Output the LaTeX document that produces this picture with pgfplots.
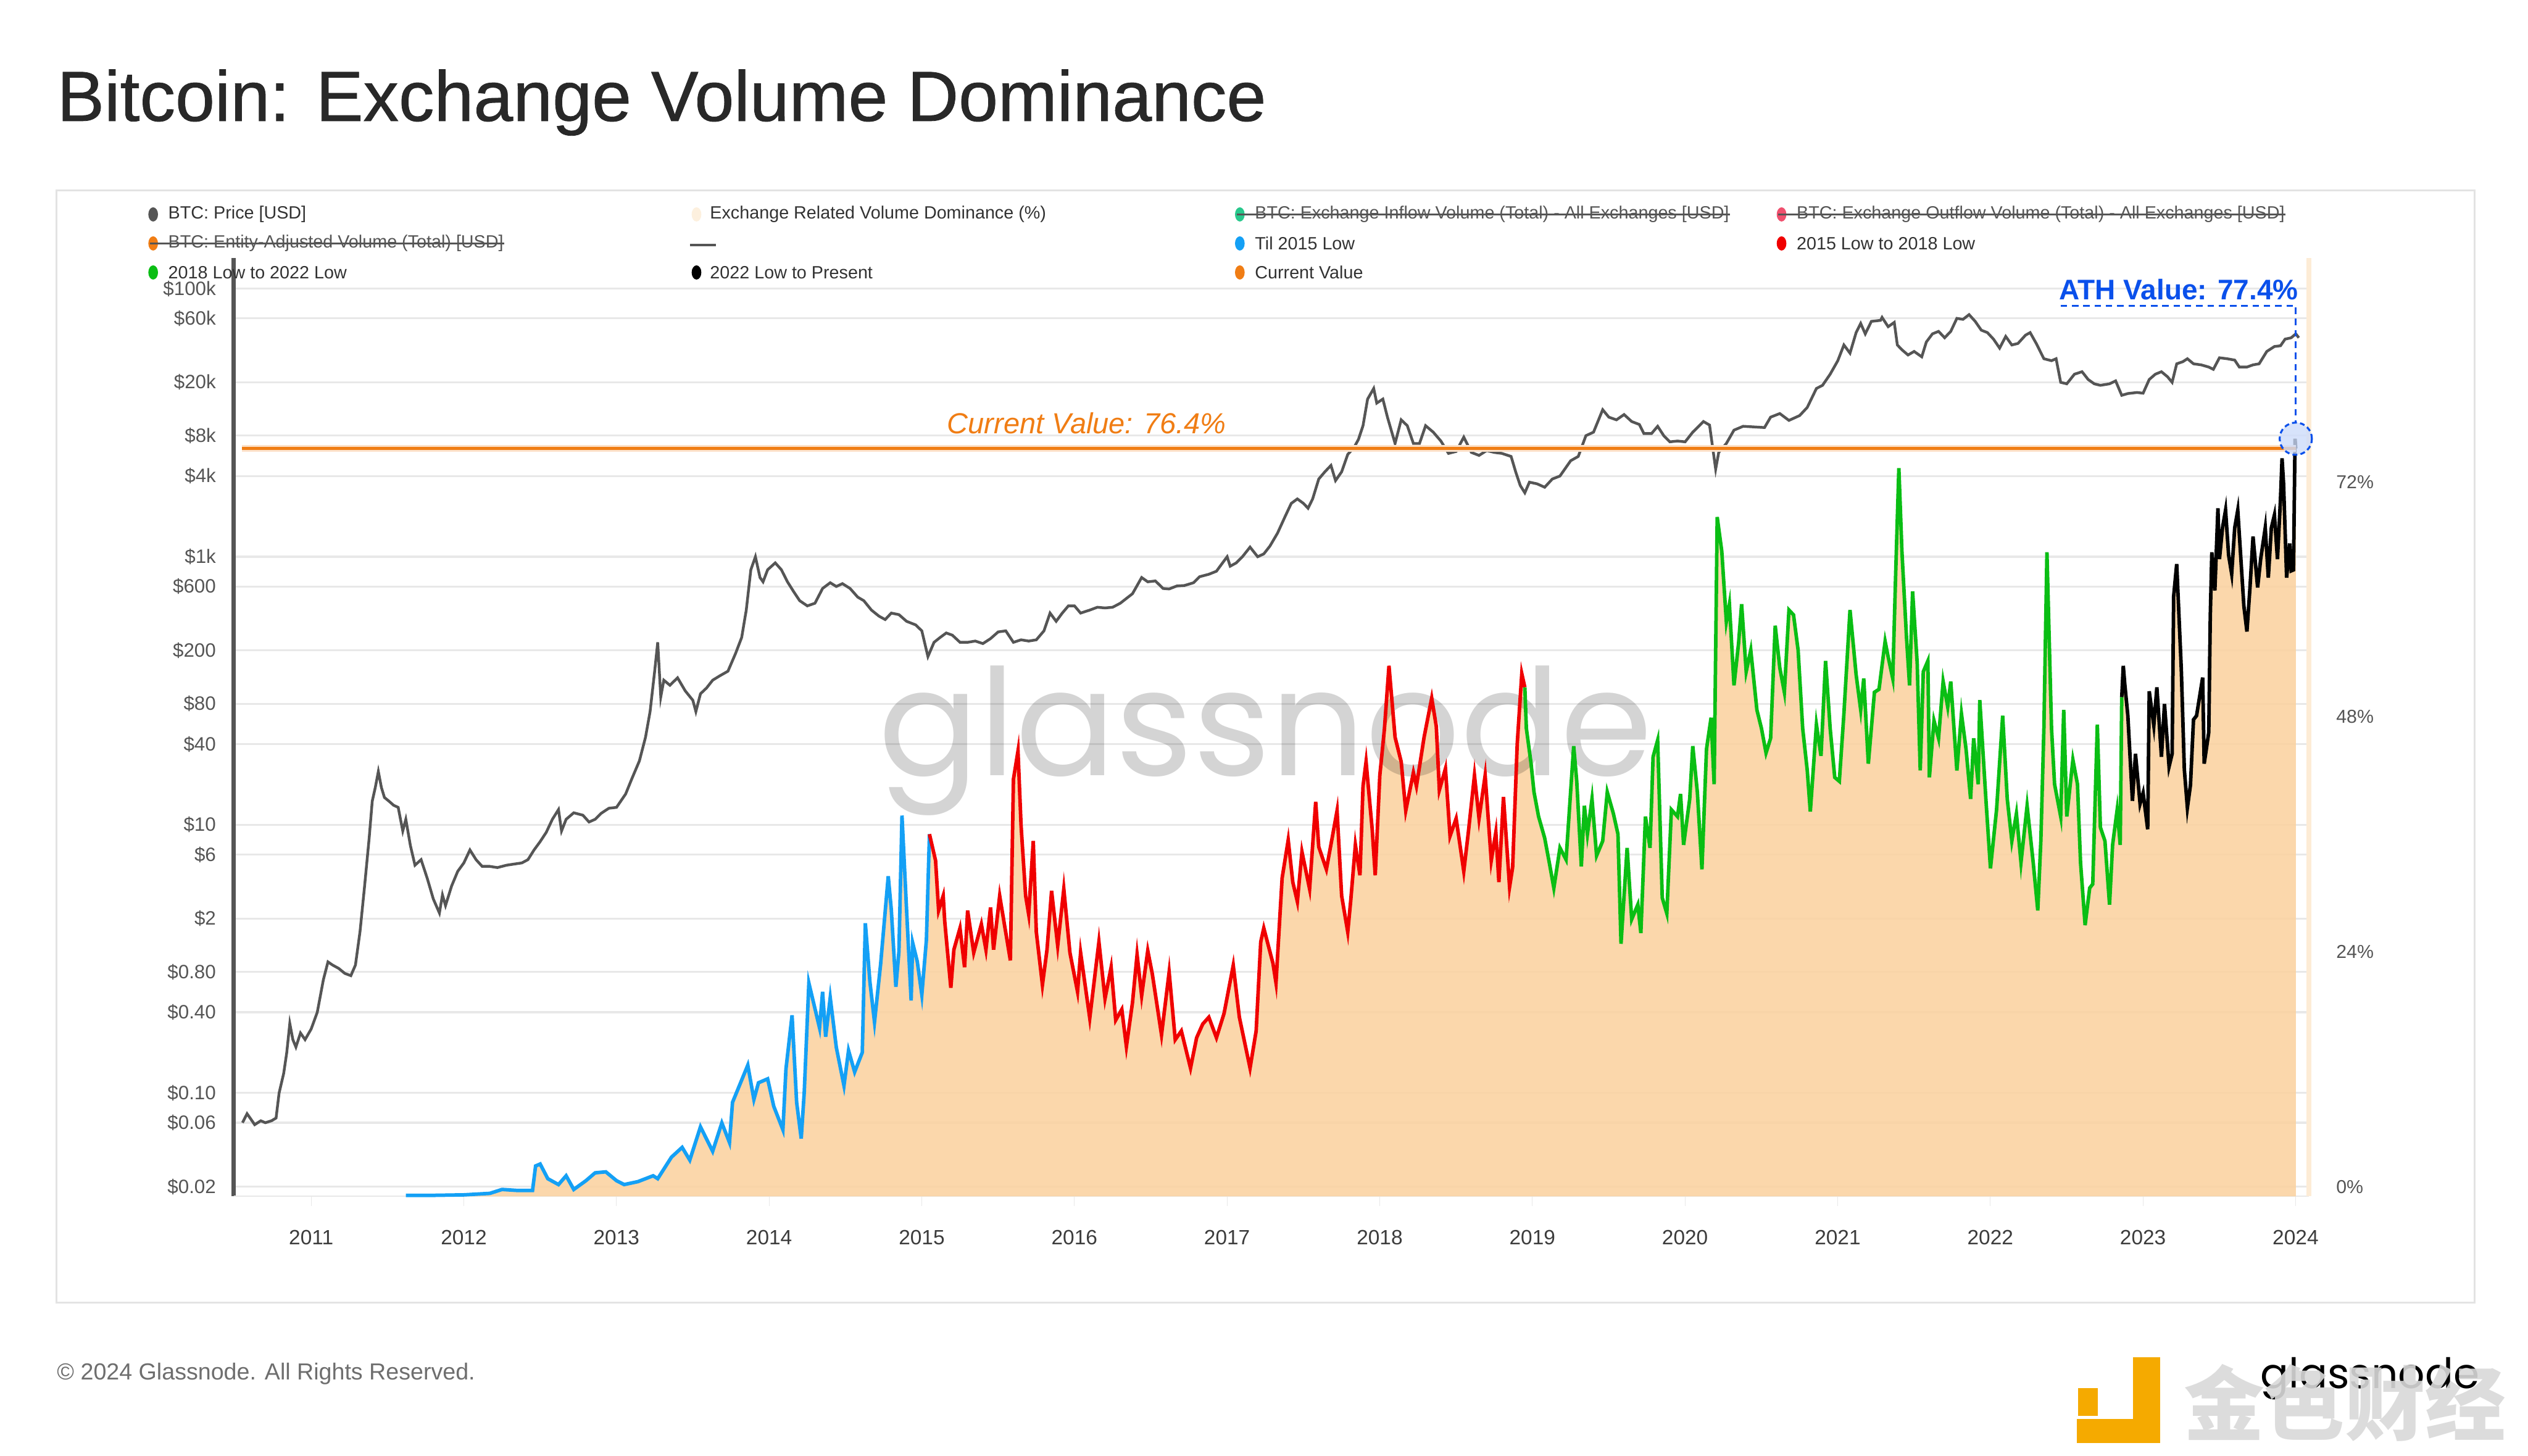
\documentclass[border=0pt]{standalone}
\usepackage{pgfplots}
\pgfplotsset{compat=1.18}
\usepackage{pgfplotstable}
\usepackage{fontspec}
\setmainfont{Liberation Sans}
\newfontfamily\titlefont{Liberation Sans}[FakeBold=0.7]
\newfontfamily\wmfont{Poppins}
\newfontfamily\cjk{Noto Sans CJK SC}

\definecolor{pricegray}{RGB}{85,85,85}
\definecolor{fillor}{RGB}{251,209,157}
\definecolor{linblue}{RGB}{20,160,245}
\definecolor{linred}{RGB}{240,0,0}
\definecolor{lingreen}{RGB}{10,190,20}
\definecolor{curor}{RGB}{240,125,20}
\definecolor{athblue}{RGB}{10,80,235}
\definecolor{gridc}{RGB}{232,232,232}
\definecolor{txtgray}{RGB}{85,85,85}
\definecolor{rightor}{RGB}{253,236,214}
\definecolor{logoor}{RGB}{245,170,0}
\definecolor{titlec}{RGB}{40,40,40}
\definecolor{xlab}{RGB}{60,60,60}
\definecolor{legtxt}{RGB}{50,50,50}
\definecolor{cream}{RGB}{253,240,222}
\definecolor{teal}{RGB}{40,200,140}
\definecolor{pinkred}{RGB}{240,80,110}
\definecolor{footc}{RGB}{110,110,110}
\newcommand\fs[1]{\fontsize{#1}{#1}\selectfont}

% BTC price (USD)
\pgfplotstableread{
x y
2010.55 0.06
2010.58 0.07
2010.60 0.065
2010.63 0.058
2010.67 0.062
2010.70 0.06
2010.74 0.062
2010.77 0.065
2010.79 0.1
2010.82 0.14
2010.84 0.20
2010.86 0.33
2010.88 0.25
2010.90 0.22
2010.93 0.28
2010.96 0.25
2011.00 0.30
2011.04 0.40
2011.08 0.70
2011.11 0.95
2011.14 0.90
2011.18 0.85
2011.22 0.78
2011.26 0.75
2011.29 0.90
2011.32 1.6
2011.35 3.5
2011.38 8
2011.40 15
2011.42 19
2011.44 25
2011.46 19
2011.48 16
2011.51 15
2011.54 14
2011.57 13.5
2011.60 9
2011.62 11
2011.65 7
2011.68 5
2011.72 5.5
2011.76 4
2011.80 2.8
2011.84 2.2
2011.86 3.0
2011.88 2.5
2011.92 3.5
2011.96 4.5
2012.00 5.2
2012.04 6.5
2012.08 5.5
2012.12 4.9
2012.17 4.9
2012.22 4.8
2012.28 5.0
2012.33 5.1
2012.38 5.2
2012.42 5.5
2012.46 6.5
2012.50 7.5
2012.54 8.8
2012.58 11
2012.62 13
2012.64 9
2012.67 11
2012.72 12.3
2012.78 11.8
2012.82 10.5
2012.86 11
2012.90 12.2
2012.95 13.3
2013.00 13.5
2013.06 17
2013.10 22
2013.15 30
2013.19 45
2013.22 70
2013.25 140
2013.27 230
2013.29 90
2013.31 120
2013.35 110
2013.40 125
2013.45 100
2013.50 85
2013.52 70
2013.55 95
2013.59 105
2013.63 120
2013.68 130
2013.73 140
2013.78 190
2013.82 250
2013.85 400
2013.88 800
2013.91 1000
2013.94 700
2013.96 650
2013.99 800
2014.04 900
2014.08 800
2014.12 650
2014.16 550
2014.20 470
2014.25 430
2014.30 450
2014.35 580
2014.40 640
2014.44 600
2014.48 630
2014.53 580
2014.58 500
2014.62 470
2014.67 400
2014.72 360
2014.76 340
2014.80 380
2014.85 370
2014.90 330
2014.96 310
2015.00 280
2015.04 180
2015.08 230
2015.12 250
2015.16 270
2015.20 260
2015.25 230
2015.30 230
2015.35 235
2015.40 225
2015.45 245
2015.50 275
2015.55 280
2015.60 230
2015.65 240
2015.70 235
2015.75 240
2015.80 280
2015.84 380
2015.88 330
2015.92 380
2015.96 430
2016.00 430
2016.04 380
2016.10 400
2016.15 420
2016.20 415
2016.25 420
2016.30 450
2016.38 530
2016.44 700
2016.48 650
2016.53 660
2016.58 580
2016.62 575
2016.67 605
2016.72 610
2016.78 640
2016.82 710
2016.88 740
2016.93 780
2016.97 900
2017.00 1000
2017.02 850
2017.06 900
2017.10 1000
2017.15 1180
2017.20 1000
2017.24 1050
2017.28 1200
2017.33 1500
2017.38 2000
2017.42 2500
2017.46 2700
2017.50 2500
2017.53 2300
2017.56 2700
2017.60 3800
2017.64 4300
2017.68 4800
2017.71 3700
2017.75 4300
2017.79 5800
2017.83 6500
2017.86 7500
2017.89 9500
2017.92 15000
2017.96 18000
2017.98 14000
2018.02 15000
2018.05 11000
2018.10 7000
2018.14 10500
2018.18 9500
2018.22 7000
2018.26 7000
2018.30 9500
2018.35 8500
2018.40 7300
2018.45 5900
2018.50 6100
2018.55 7800
2018.60 6000
2018.65 5700
2018.70 6200
2018.75 6000
2018.80 5900
2018.86 5600
2018.89 4300
2018.92 3400
2018.95 3000
2018.98 3600
2019.03 3500
2019.08 3300
2019.13 3800
2019.18 4000
2019.25 5200
2019.30 5600
2019.35 8000
2019.40 8500
2019.46 12500
2019.50 11000
2019.55 10500
2019.60 11500
2019.65 10200
2019.70 9700
2019.73 8300
2019.78 8300
2019.82 9400
2019.86 8000
2019.90 7200
2019.95 7300
2020.00 7200
2020.05 8500
2020.12 10200
2020.16 9600
2020.20 4500
2020.22 6000
2020.27 7000
2020.32 8800
2020.38 9400
2020.45 9300
2020.52 9200
2020.56 11000
2020.62 11700
2020.68 10400
2020.75 11300
2020.80 13000
2020.86 18000
2020.90 19000
2020.95 23000
2021.00 29000
2021.04 38000
2021.08 33000
2021.12 47000
2021.15 55000
2021.18 46000
2021.22 57000
2021.28 58000
2021.29 61000
2021.33 52000
2021.37 56000
2021.39 38000
2021.42 35000
2021.46 32000
2021.50 34000
2021.55 31000
2021.58 40000
2021.62 46000
2021.66 48000
2021.70 43000
2021.74 48000
2021.78 60000
2021.82 59000
2021.86 64000
2021.90 57000
2021.94 49000
2021.98 47000
2022.02 42000
2022.06 36000
2022.10 44000
2022.14 38000
2022.18 39000
2022.23 45000
2022.26 47000
2022.30 39000
2022.35 30000
2022.40 29000
2022.43 30000
2022.46 20000
2022.50 19500
2022.55 23000
2022.60 24000
2022.64 21000
2022.68 19500
2022.72 19000
2022.78 19500
2022.82 20500
2022.86 16000
2022.90 16500
2022.96 16800
2023.00 16600
2023.04 21000
2023.08 23000
2023.12 24000
2023.16 22000
2023.19 20000
2023.22 27500
2023.26 28500
2023.29 30000
2023.33 27500
2023.38 27000
2023.43 26000
2023.46 25000
2023.50 30500
2023.55 30000
2023.60 29300
2023.63 26000
2023.68 26000
2023.72 27000
2023.76 27500
2023.81 34000
2023.86 37000
2023.90 37500
2023.93 42000
2023.97 43000
2024.00 46000
2024.02 43000
}\price

% Exchange related volume dominance (%)
\pgfplotstableread{
x y
2011.62 0.1
2011.80 0.1
2012.00 0.15
2012.17 0.3
2012.25 0.7
2012.35 0.6
2012.45 0.6
2012.47 3.1
2012.50 3.3
2012.55 1.8
2012.62 1.2
2012.67 2.1
2012.72 0.7
2012.80 1.6
2012.86 2.4
2012.93 2.5
2013.00 1.6
2013.05 1.2
2013.14 1.5
2013.24 2.1
2013.27 1.8
2013.36 4.0
2013.43 5.0
2013.48 3.7
2013.55 7.1
2013.63 4.6
2013.69 7.5
2013.74 5.5
2013.76 9.6
2013.86 13.4
2013.90 9.9
2013.93 11.6
2013.99 12.0
2014.03 9.2
2014.09 6.8
2014.11 13.0
2014.15 18.5
2014.18 9.6
2014.21 5.9
2014.23 10.7
2014.26 21.8
2014.33 17.2
2014.35 20.9
2014.37 16.3
2014.40 20.3
2014.44 15.2
2014.49 11.3
2014.52 14.9
2014.56 12.7
2014.61 14.7
2014.63 27.9
2014.66 21.9
2014.69 17.8
2014.73 23.7
2014.78 32.7
2014.80 29.3
2014.83 21.4
2014.85 25.0
2014.87 38.9
2014.90 29.3
2014.93 20.0
2014.94 25.9
2014.97 24.0
2015.00 20.6
2015.03 26.2
2015.05 37.0
2015.09 34.3
2015.11 29.2
2015.14 30.7
2015.15 28.1
2015.19 21.3
2015.21 25.2
2015.25 27.4
2015.28 23.4
2015.30 29.2
2015.34 24.9
2015.39 27.8
2015.42 25.2
2015.45 29.5
2015.47 25.2
2015.51 30.7
2015.58 24.1
2015.60 42.6
2015.63 45.5
2015.65 37.9
2015.68 30.7
2015.70 28.8
2015.73 36.3
2015.75 27.0
2015.79 21.6
2015.82 25.2
2015.85 31.2
2015.89 25.6
2015.93 31.4
2015.97 24.9
2016.02 20.9
2016.04 24.9
2016.10 18.2
2016.16 26.0
2016.20 20.2
2016.24 23.4
2016.27 18.0
2016.31 19.1
2016.34 15.3
2016.38 19.8
2016.41 24.7
2016.44 20.5
2016.48 25.1
2016.51 22.7
2016.57 16.5
2016.62 22.9
2016.66 16.0
2016.70 16.9
2016.76 13.1
2016.80 16.2
2016.84 17.6
2016.88 18.3
2016.93 16.2
2016.98 18.7
2017.04 23.6
2017.08 18.3
2017.15 13.1
2017.19 16.9
2017.22 26.0
2017.24 27.4
2017.30 23.8
2017.32 21.8
2017.36 32.5
2017.40 36.4
2017.43 32.1
2017.46 30.1
2017.49 35.2
2017.54 31.4
2017.58 40.3
2017.60 35.7
2017.65 33.4
2017.69 36.8
2017.72 39.4
2017.75 30.7
2017.79 27.0
2017.81 30.3
2017.84 35.9
2017.87 32.8
2017.89 41.9
2017.91 44.4
2017.95 37.5
2017.97 32.8
2018.00 43.0
2018.03 47.7
2018.06 54.2
2018.10 46.9
2018.14 44.4
2018.17 39.4
2018.22 43.3
2018.24 41.9
2018.29 46.9
2018.34 50.9
2018.37 48.0
2018.39 41.5
2018.43 43.7
2018.46 36.8
2018.50 38.6
2018.55 33.2
2018.58 37.2
2018.62 43.0
2018.65 38.6
2018.69 43.0
2018.73 34.3
2018.76 37.2
2018.78 32.1
2018.81 40.8
2018.85 31.6
2018.87 33.6
2018.90 46.2
2018.93 53.4
2018.95 52.0
2018.96 47.8
2018.99 44.3
2019.01 41.3
2019.04 38.8
2019.08 36.6
2019.11 34.1
2019.14 31.5
2019.18 35.6
2019.22 34.4
2019.27 46.0
2019.29 42.4
2019.32 33.7
2019.34 39.9
2019.36 37.0
2019.39 40.6
2019.42 34.8
2019.46 36.3
2019.49 41.3
2019.53 39.1
2019.56 37.0
2019.58 25.8
2019.62 35.6
2019.65 28.3
2019.69 29.8
2019.71 26.9
2019.74 38.8
2019.77 35.6
2019.79 44.9
2019.82 46.6
2019.85 30.5
2019.88 28.9
2019.91 39.5
2019.95 38.8
2019.97 41.1
2019.99 35.9
2020.03 40.6
2020.05 46.0
2020.08 41.3
2020.11 33.4
2020.14 45.7
2020.17 48.9
2020.19 42.1
2020.21 69.4
2020.24 65.9
2020.27 58.7
2020.29 60.5
2020.32 52.2
2020.35 56.5
2020.37 60.5
2020.40 53.6
2020.43 55.8
2020.47 49.7
2020.50 47.8
2020.53 45.3
2020.56 46.8
2020.59 58.3
2020.62 54.0
2020.65 51.5
2020.68 59.9
2020.71 59.4
2020.74 55.8
2020.77 47.8
2020.80 43.5
2020.82 39.3
2020.86 48.2
2020.89 45.0
2020.92 54.7
2020.95 47.8
2020.98 42.8
2021.01 42.4
2021.04 49.3
2021.08 59.9
2021.12 53.3
2021.15 49.7
2021.17 52.9
2021.20 44.2
2021.24 51.5
2021.27 51.8
2021.31 56.7
2021.33 55.1
2021.36 52.9
2021.38 64.1
2021.40 74.4
2021.42 65.9
2021.45 57.1
2021.47 52.2
2021.49 61.8
2021.52 54.5
2021.54 43.5
2021.56 53.6
2021.59 54.7
2021.60 42.8
2021.63 48.6
2021.66 46.8
2021.69 52.6
2021.72 50.0
2021.74 52.6
2021.78 43.5
2021.81 49.3
2021.84 45.7
2021.87 40.6
2021.89 46.8
2021.92 42.1
2021.93 50.7
2021.97 40.6
2022.00 33.5
2022.04 39.5
2022.08 49.1
2022.11 40.6
2022.14 36.3
2022.17 39.1
2022.20 34.1
2022.24 39.9
2022.28 34.1
2022.31 29.2
2022.33 36.3
2022.35 47.8
2022.37 65.8
2022.40 47.8
2022.42 42.1
2022.46 38.8
2022.48 49.7
2022.50 38.8
2022.54 44.6
2022.57 42.1
2022.59 34.1
2022.62 27.7
2022.65 31.5
2022.67 31.9
2022.70 48.2
2022.72 37.7
2022.75 36.3
2022.78 29.8
2022.80 35.9
2022.83 39.5
2022.85 35.9
2022.86 51.0
2022.87 54.2
2022.88 52.3
2022.90 49.1
2022.93 40.4
2022.95 45.2
2022.98 40.1
2023.00 41.2
2023.03 37.5
2023.04 51.6
2023.07 48.1
2023.09 52.0
2023.12 44.9
2023.14 50.3
2023.17 43.9
2023.19 45.2
2023.20 61.3
2023.22 64.6
2023.25 53.9
2023.27 43.6
2023.29 39.7
2023.31 42.0
2023.33 48.7
2023.35 49.1
2023.39 53.0
2023.40 44.2
2023.43 47.4
2023.44 59.3
2023.45 65.8
2023.47 61.9
2023.49 70.3
2023.50 65.1
2023.52 68.3
2023.54 70.1
2023.56 65.5
2023.58 63.6
2023.60 68.3
2023.62 70.1
2023.66 60.3
2023.68 57.7
2023.70 62.2
2023.72 67.4
2023.75 62.2
2023.77 65.1
2023.80 68.3
2023.82 63.2
2023.84 68.3
2023.86 69.6
2023.88 65.1
2023.90 71.3
2023.91 75.4
2023.92 72.8
2023.94 63.2
2023.96 66.7
2023.97 63.9
2023.985 64.0
2023.99 70.6
2023.995 77.4
2024.00 76.4
}\dom

\pgfplotsset{
  base/.style={
    at={(72.5pt,80.5pt)}, anchor=south west,
    width=643.5pt, height=291pt, scale only axis,
    xmin=2010.493, xmax=2024.085,
    /pgf/number format/assume math mode=true,
  },
}

\begin{document}
\begin{tikzpicture}
\useasboundingbox (0,0) rectangle (784pt,451.5pt);
\fill[white] (0,0) rectangle (784pt,451.5pt);

% title and frame
\node[anchor=base west, inner sep=0pt, text=titlec, font=\titlefont\fs{22}] at (17.5pt,414pt) {Bitcoin: Exchange Volume Dominance};
\draw[gray!22, line width=0.6pt] (17.5pt,47.5pt) rectangle (767.5pt,392.5pt);

% price axis (left, log)
\begin{axis}[base,
  ymode=log, ymin=0.01694, ymax=169400,
  axis x line=none, xtick=\empty,
  axis y line*=left,
  y axis line style={pricegray, line width=1.4pt, -},
  ytick={0.02,0.06,0.1,0.4,0.8,2,6,10,40,80,200,600,1000,4000,8000,20000,60000,100000},
  yticklabels={\$0.02,\$0.06,\$0.10,\$0.40,\$0.80,\$2,\$6,\$10,\$40,\$80,\$200,\$600,\$1k,\$4k,\$8k,\$20k,\$60k,\$100k},
  yminorticks=false, major tick length=0pt,
  ymajorgrids, major grid style={gridc, line width=0.6pt},
  yticklabel style={font=\fs{6}, text=txtgray, xshift=-2pt},
]
\addplot[pricegray, line width=0.85pt] table {\price};
\end{axis}

% dominance fill (right axis)
\begin{axis}[base,
  ymin=0, ymax=95.87,
  axis y line*=right, axis x line*=bottom,
  y axis line style={rightor, line width=1.6pt, -},
  x axis line style={gridc, -},
  ytick={0,24,48,72},
  yticklabel={\pgfmathprintnumber{\tick}\%},
  ytick style={draw=none},
  yticklabel style={font=\fs{5.8}, text=txtgray, yshift=3pt, xshift=2pt},
  xtick={2011,...,2024},
  xticklabel style={font=\fs{6.4}, text=xlab, /pgf/number format/1000 sep={}, yshift=-4pt},
  xtick style={gridc}, tick align=outside, major tick length=3pt,
]
\addplot[fill=fillor, fill opacity=0.85, draw=none] table {\dom} \closedcycle;
\end{axis}

% watermark
\node[anchor=base, inner sep=0pt, font=\wmfont\fs{46}, text=black, opacity=0.17] at (392.5pt,211pt) {glassnode};

% dominance coloured segments and annotations
\begin{axis}[base, ymin=0, ymax=95.87, hide axis, clip=false]
\addplot[linblue, line width=1.1pt, restrict x to domain=2011:2015.051] table {\dom};
\addplot[linred, line width=1.1pt, restrict x to domain=2015.049:2018.951] table {\dom};
\addplot[lingreen, line width=1.1pt, restrict x to domain=2018.949:2022.861] table {\dom};
\addplot[black, line width=1.1pt, restrict x to domain=2022.859:2025] table {\dom};
\addplot[curor!22, line width=2.2pt] coordinates {(2010.546,76.4) (2024.0,76.4)};
\addplot[curor, line width=0.9pt] coordinates {(2010.546,76.4) (2024.0,76.4)};
\node[font=\fs{9}\itshape, text=curor] at (axis cs:2016.08,79) {Current Value: 76.4\%};
\draw[athblue, line width=0.6pt, dash pattern=on 2pt off 1.5pt] (axis cs:2022.46,91) -- (axis cs:2024.0,91) -- (axis cs:2024.0,79);
\node[anchor=base east, inner sep=0pt, font=\fs{8.8}\bfseries, text=athblue] at (axis cs:2024.02,91.6) {ATH Value: 77.4\%};
\addplot[only marks, mark=*, mark size=5pt, mark options={fill=athblue!20, fill opacity=0.8, draw=athblue, dash pattern=on 1.5pt off 1pt, line width=0.6pt}] coordinates {(2024.0,77.4)};
\end{axis}

% legend
\begin{scope}[every node/.style={anchor=west, inner sep=0pt, font=\fs{5.5}, text=legtxt}]
\fill[pricegray] (47.5pt,385pt) ellipse (1.5pt and 2.2pt);
\node at (52pt,385pt) {BTC: Price [USD]};
\fill[cream] (216pt,385pt) ellipse (1.5pt and 2.2pt);
\node at (220pt,385pt) {Exchange Related Volume Dominance (\%)};
\fill[teal] (384.5pt,385pt) ellipse (1.5pt and 2.2pt);
\node[text=txtgray] (s1) at (389pt,385pt) {BTC: Exchange Inflow Volume (Total) - All Exchanges [USD]};
\fill[pinkred] (552.5pt,385pt) ellipse (1.5pt and 2.2pt);
\node[text=txtgray] (s2) at (557pt,385pt) {BTC: Exchange Outflow Volume (Total) - All Exchanges [USD]};
\fill[curor] (47.5pt,376pt) ellipse (1.5pt and 2.2pt);
\node[text=txtgray] (s3) at (52pt,376pt) {BTC: Entity-Adjusted Volume (Total) [USD]};
\draw[pricegray, line width=0.6pt] (214pt,375.5pt) -- (222pt,375.5pt);
\fill[linblue] (384.5pt,376pt) ellipse (1.5pt and 2.2pt);
\node at (389pt,376pt) {Til 2015 Low};
\fill[linred] (552.5pt,376pt) ellipse (1.5pt and 2.2pt);
\node at (557pt,376pt) {2015 Low to 2018 Low};
\fill[lingreen] (47.5pt,367pt) ellipse (1.5pt and 2.2pt);
\node at (52pt,367pt) {2018 Low to 2022 Low};
\fill[black] (216pt,367pt) ellipse (1.5pt and 2.2pt);
\node at (220pt,367pt) {2022 Low to Present};
\fill[curor] (384.5pt,367pt) ellipse (1.5pt and 2.2pt);
\node at (389pt,367pt) {Current Value};
\end{scope}
\draw[pricegray, line width=0.5pt] (383.5pt,385pt) -- (s1.east);
\draw[pricegray, line width=0.5pt] (551.5pt,385pt) -- (s2.east);
\draw[pricegray, line width=0.5pt] (46.5pt,376pt) -- (s3.east);

% footer
\node[anchor=west, inner sep=0pt, font=\fs{7.2}, text=footc] at (17.5pt,25.5pt) {\textcopyright{} 2024 Glassnode. All Rights Reserved.};
\fill[logoor] (661.5pt,4pt) rectangle (670pt,30.5pt);
\fill[logoor] (644pt,4pt) rectangle (670pt,11.5pt);
\fill[logoor] (644.5pt,12.5pt) rectangle (650.5pt,21pt);
\node[anchor=base, inner sep=0pt, font=\wmfont\fs{13}, text=black] at (735pt,21pt) {glassnode};
\node[anchor=west, inner sep=0pt, font=\cjk\fs{25}\bfseries, text=gray!30, opacity=0.9] at (677pt,16.5pt) {金色财经};
\end{tikzpicture}
\end{document}
